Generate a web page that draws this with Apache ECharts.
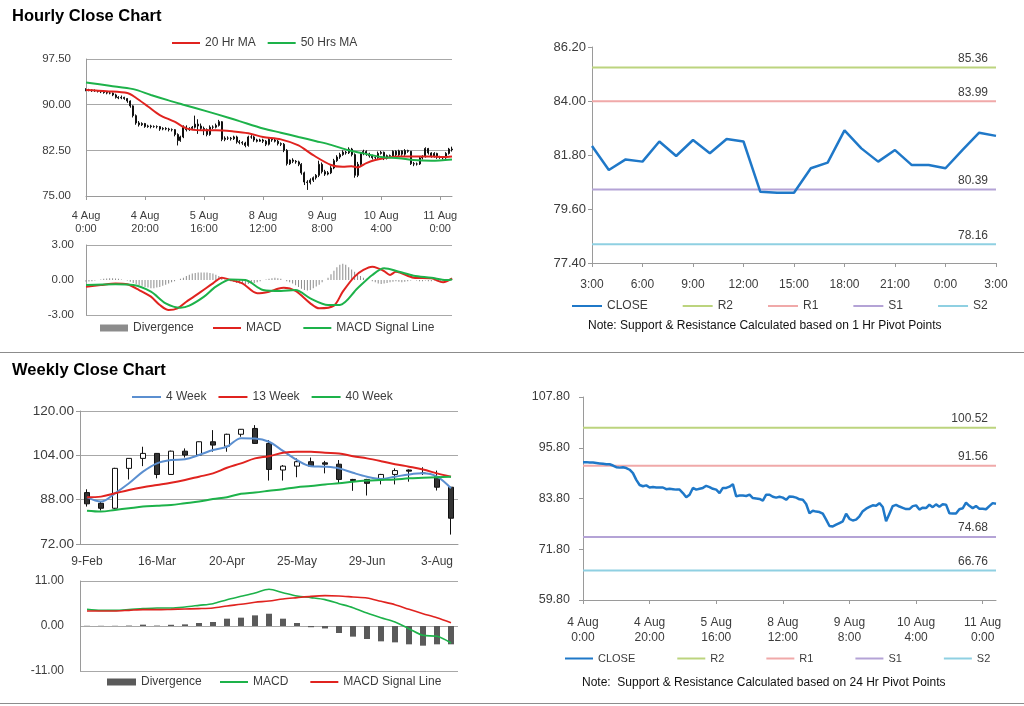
<!DOCTYPE html>
<html><head><meta charset="utf-8">
<script src="https://cdn.jsdelivr.net/npm/echarts@6/dist/echarts.min.js"></script>
<style>html,body{margin:0;padding:0;background:#fff}#c{width:1024px;height:706px}</style>
</head><body><div id="c"></div>
<script>
// ---------- Hourly data (4 Aug 0:00 .. 11 Aug ~4:00) ----------
const hourlyTickLabels = ['4 Aug\n0:00','4 Aug\n20:00','5 Aug\n16:00','8 Aug\n12:00','9 Aug\n8:00','10 Aug\n4:00','11 Aug\n0:00'];
const hourlyOpen = [92.5,92.4,92.4,92.3,92.3,92.2,92.1,92.0,91.9,91.9,
 91.6,91.2,91.1,91.2,91.0,90.6,89.8,88.2,87.0,86.7,
 86.9,86.4,86.5,86.4,86.4,86.4,86.0,86.1,86.0,85.9,
 85.9,85.1,84.1,84.7,86.3,85.9,86.1,86.3,86.8,86.5,
 86.1,85.9,85.1,86.3,86.3,86.6,87.2,84.3,84.5,84.5,
 84.4,84.7,83.9,83.8,83.7,83.3,84.7,84.7,84.2,84.0,
 84.2,84.0,83.5,84.3,84.2,84.0,83.6,83.5,82.5,80.3,
 80.9,80.7,80.6,80.2,78.8,77.3,77.2,77.6,78.0,78.4,
 80.2,79.0,78.6,78.8,79.6,80.8,81.4,81.8,82.2,82.1,
 82.7,81.8,78.4,80.2,82.0,82.3,81.9,81.6,81.3,81.3,
 82.0,82.17,81.19,81.62,81.53,82.35,81.76,82.41,81.87,82.45,
 82.35,80.30,80.26,80.26,81.26,81.49,82.8,82.07,81.53,82.0,
 81.39,81.39,81.26,82.0,82.71];
const hourlyClose = [92.4,92.4,92.3,92.3,92.2,92.1,92.0,91.9,91.9,91.6,
 91.2,91.1,91.2,91.0,90.6,89.8,88.2,87.0,86.7,86.9,
 86.4,86.5,86.4,86.4,86.4,86.0,86.1,86.0,85.9,85.9,
 85.1,84.1,84.7,86.3,85.9,86.1,86.3,86.8,86.5,86.1,
 85.9,85.1,86.3,86.3,86.6,87.2,84.3,84.5,84.5,84.4,
 84.7,83.9,83.8,83.7,83.3,84.7,84.7,84.2,84.0,84.2,
 84.0,83.5,84.3,84.2,84.0,83.6,83.5,82.5,80.3,80.9,
 80.7,80.6,80.2,78.8,77.3,77.2,77.6,78.0,78.4,80.2,
 79.0,78.6,78.8,79.6,80.8,81.4,81.8,82.2,82.1,82.7,
 81.8,78.4,80.2,82.0,82.3,81.9,81.6,81.3,81.3,82.0,
 82.17,81.19,81.62,81.53,82.35,81.76,82.41,81.87,82.45,82.35,
 80.30,80.26,80.26,81.26,81.49,82.8,82.07,81.53,82.0,81.39,
 81.39,81.26,82.0,82.71,82.58];
const hourlyHigh = [92.7,92.6,92.5,92.5,92.4,92.3,92.3,92.1,92.1,92.0,
 91.8,91.4,91.5,91.3,91.1,90.7,89.9,88.4,87.3,87.1,
 87.0,86.7,86.7,86.6,86.6,86.5,86.3,86.3,86.2,86.1,
 86.0,85.3,84.9,86.6,86.6,86.3,86.5,88.2,87.6,86.9,
 86.4,86.1,86.6,86.6,86.9,87.5,87.3,84.8,84.8,84.7,
 84.9,84.9,84.2,84.0,83.9,84.9,85.0,84.9,84.4,84.4,
 84.4,84.2,84.5,84.5,84.4,84.2,83.8,83.7,82.7,81.0,
 81.2,80.9,80.8,80.4,79.0,77.6,77.9,78.2,78.6,80.8,
 80.5,79.3,79.1,79.9,81.1,81.7,82.1,82.5,82.4,83.0,
 82.9,82.0,80.6,82.2,82.6,82.5,82.1,81.8,81.5,82.3,
 82.4,82.3,81.8,81.8,82.5,82.5,82.6,82.5,82.7,82.6,
 82.4,80.6,80.5,81.4,81.7,83.0,82.9,82.2,82.2,82.1,
 81.6,81.5,82.2,82.9,83.1];
const hourlyLow = [92.2,92.2,92.1,92.1,92.0,91.9,91.8,91.7,91.7,91.4,
 91.0,90.9,90.9,90.8,90.3,89.5,87.9,86.7,86.4,86.5,
 86.2,86.2,86.1,86.2,86.1,85.7,85.8,85.8,85.6,85.6,
 84.8,83.3,83.9,84.5,85.6,85.7,85.9,86.1,85.2,85.8,
 85.0,84.8,84.9,86.0,86.1,86.4,84.0,84.0,84.2,84.1,
 84.2,83.6,83.5,83.4,83.0,83.1,84.4,83.9,83.8,83.9,
 83.7,83.2,83.3,83.9,83.8,83.3,83.2,82.2,80.0,80.1,
 80.4,80.3,79.9,78.5,76.8,76.0,76.9,77.3,77.7,78.1,
 78.7,78.3,78.4,78.6,79.4,80.6,81.1,81.6,81.8,81.9,
 81.5,78.0,78.1,79.9,81.7,81.6,81.3,81.0,81.0,81.1,
 81.8,80.9,81.0,81.3,81.3,81.5,81.5,81.6,81.6,82.1,
 80.1,79.9,80.0,80.1,81.0,81.3,81.8,81.3,81.3,81.1,
 81.1,81.0,81.1,81.8,82.3];
// [hour index, value]
const ma20Hr = [[0,92.4],[7,92.2],[14,91.9],[17,91.1],[21,89.7],[25,88.3],[30,87.2],[34,86.1],[39,85.8],[44,85.8],[50,85.6],[55,85.3],[60,84.7],[66,84.3],[72,83.3],[77,81.7],[83,80.1],[87,79.8],[90,79.9],[92,79.7],[95,80.4],[98,80.9],[102,81.3],[106,81.5],[111,81.5],[117,81.5],[121,81.4],[124,81.5]];
const ma50Hr = [[0,93.65],[8,93.1],[16,92.55],[22,91.6],[28,90.7],[33,90.0],[41,88.9],[48,87.9],[52,87.3],[60,86.1],[66,85.4],[72,84.7],[78,84.0],[83,83.4],[89,82.5],[94,82.0],[100,81.4],[106,81.2],[111,80.9],[117,80.8],[124,81.0]];
const hourlyMacd = [[0,-0.57],[5,-0.43],[10,-0.29],[14,-0.37],[18,-0.86],[22,-1.43],[25,-2.14],[28,-2.57],[31,-2.43],[34,-1.86],[39,-1.0],[43,-0.29],[46,0.2],[49,0.0],[53,-0.29],[58,-1.14],[62,-1.0],[65,-0.75],[67,-0.66],[71,-0.94],[76,-2.0],[79,-2.43],[84,-2.2],[87,-1.0],[91,0.29],[94,0.86],[97,1.14],[99,1.0],[101,0.77],[103,0.43],[105,0.71],[111,0.2],[117,0.14],[121,-0.2],[124,0.14]];
const hourlySignal = [[0,-0.43],[10,-0.37],[16,-0.43],[22,-1.0],[27,-2.0],[32,-2.37],[35,-2.2],[40,-1.43],[44,-0.57],[49,0.05],[54,0.0],[60,-0.86],[66,-0.94],[71,-0.86],[76,-1.57],[82,-2.14],[86,-2.14],[92,-0.71],[97,0.43],[101,1.0],[106,0.71],[111,0.37],[117,0.2],[122,0.0],[124,0.05]];
const hourlyDivergence = [-0.15,-0.12,-0.1,-0.05,0.0,
 0.05,0.1,0.12,0.15,0.15,0.12,0.1,0.05,0.0,-0.05,
 -0.15,-0.25,-0.35,-0.45,-0.5,-0.6,-0.65,-0.7,-0.7,-0.65,-0.6,-0.5,-0.4,-0.3,-0.2,-0.1,0.0,0.1,
 0.2,0.35,0.45,0.55,0.6,0.65,0.65,0.65,0.65,0.6,0.55,0.45,0.35,0.2,0.05,
 -0.05,-0.1,-0.15,-0.25,-0.3,-0.35,-0.4,-0.35,-0.3,-0.25,-0.2,-0.1,0.0,0.05,0.1,
 0.15,0.2,0.15,0.1,0.0,-0.1,-0.2,
 -0.3,-0.45,-0.6,-0.75,-0.85,-0.9,-0.85,-0.7,-0.55,-0.4,-0.2,0.0,0.2,0.5,0.8,1.1,
 1.3,1.4,1.3,1.1,0.9,0.7,0.5,0.35,0.2,0.1,0.0,-0.1,
 -0.2,-0.3,-0.35,-0.3,-0.25,-0.2,-0.15,-0.1,-0.15,-0.2,-0.15,-0.1,-0.05,0.0,-0.05,
 -0.1,-0.1,-0.05,-0.1,-0.1,-0.05,-0.1,-0.15,-0.1,-0.05,0.0,0.1];

// ---------- Last 25 hours with 1 Hr pivots ----------
const lastDayLabels = ['3:00','4:00','5:00','6:00','7:00','8:00','9:00','10:00','11:00','12:00','13:00','14:00','15:00','16:00','17:00','18:00','19:00','20:00','21:00','22:00','23:00','0:00','1:00','2:00','3:00'];
const lastDayClose = hourlyClose.slice(-25);
const pivotNames = ['R2','R1','S1','S2'];
const pivotColors = ['#bcd47e','#f0a9a9','#b4a3d6','#8fd0e2'];
const pivots1Hr = [85.36, 83.99, 80.39, 78.16];
const pivots24Hr = [100.52, 91.56, 74.68, 66.76];

// ---------- Weekly data ----------
const weeks = ['9-Feb','16-Feb','23-Feb','2-Mar','9-Mar','16-Mar','23-Mar','30-Mar','6-Apr','13-Apr','20-Apr','27-Apr','4-May','11-May','18-May','25-May','1-Jun','8-Jun','15-Jun','22-Jun','29-Jun','6-Jul','13-Jul','20-Jul','27-Jul','3-Aug','10-Aug'];
const weeklyOpen  = [90.55,86.7,84.9,99.3,102.9,104.7,97.1,105.5,104.1,108.9,107.3,111.6,113.7,108.3,98.7,100.1,101.7,101.3,100.8,95.3,95.3,95.3,97.1,98.7,97.6,96.3,92.5];
const weeklyClose = [86.5,84.9,99.3,102.9,104.7,97.1,105.5,104.1,108.9,107.7,111.6,113.4,108.3,98.9,100.1,101.7,100.1,100.8,95.3,94.9,93.9,97.1,98.5,98.3,97.5,92.5,81.3];
const weeklyLow   = [85.5,84.1,84.7,95.3,100.1,95.7,97.0,103.2,104.0,105.3,105.3,110.7,108.2,94.9,94.9,96.1,99.9,97.5,93.9,91.2,89.5,93.5,93.5,94.5,96.9,91.3,75.4];
const weeklyHigh  = [91.75,87.3,99.5,102.9,107.1,104.8,105.7,106.5,109.0,113.1,111.8,113.5,114.9,109.5,100.5,102.9,103.2,102.0,102.3,95.5,95.5,97.3,99.3,98.9,99.7,98.5,92.6];
const ma4Week  = [88.9,87.3,90.3,93.9,98.1,101.1,102.3,102.6,104.1,105.9,107.1,110.2,110.1,108.9,105.6,102.3,100.1,99.9,99.3,97.7,96.3,95.5,96.3,97.1,97.5,96.3,92.1];
const ma13Week = [88.9,89.1,90.3,91.5,92.5,93.3,94.1,95.1,96.3,97.5,99.5,101.1,102.9,103.7,104.9,105.3,105.3,104.9,104.7,103.7,102.9,101.9,100.8,99.9,98.9,97.5,96.3];
const ma40Week = [84.0,83.7,84.3,84.9,85.5,85.8,86.1,86.7,87.3,88.2,88.9,90.1,90.6,91.2,91.8,92.5,92.9,93.5,93.9,94.5,94.9,95.1,95.3,95.7,95.9,96.1,96.3];
const weeklyMacd   = [4.07,3.83,3.83,4.0,4.24,4.4,4.4,4.65,5.05,5.46,6.44,7.25,8.07,8.97,8.15,7.33,6.93,6.44,5.46,4.48,3.18,2.04,0.98,-0.65,-2.28,-2.53,-4.16];
const weeklySignal = [3.67,3.67,3.67,3.83,4.0,4.0,4.07,4.16,4.24,4.4,4.89,5.3,5.79,6.11,6.6,6.93,7.25,7.42,7.33,7.09,6.85,6.03,5.22,4.07,3.02,2.04,0.82];
const weeklyDivergence = [0.05,0.05,0.05,0.1,0.33,0.1,0.3,0.4,0.73,0.98,1.79,2.04,2.6,3.0,1.79,0.73,-0.3,-0.6,-1.71,-2.6,-3.18,-3.75,-4.0,-4.48,-4.81,-4.48,-4.48];

// ---------- build ----------
const FONT = '"Liberation Sans", Arial, sans-serif';
const TXT = '#3c3c3c';
const AX = '#9a9a9a';
const GRID = '#a8a8a8';
const RED = '#e0231f', GREEN = '#1db24a', BLUE = '#5b8fd0', CLOSEC = '#1f78c8';

const hourCats = hourlyClose.map((_, i) => String(i));
const lastCats = lastDayLabels.map((_, i) => String(i));
const hourlyOHLC = hourlyClose.map((c, i) => [hourlyOpen[i], c, hourlyLow[i], hourlyHigh[i]]);
const weeklyOHLC = weeklyClose.map((c, i) => [weeklyOpen[i], c, weeklyLow[i], weeklyHigh[i]]);

function yAx(gi, min, max, interval, o) {
  return Object.assign({
    type: 'value', gridIndex: gi, min, max, interval,
    axisLine: { show: true, lineStyle: { color: AX } },
    axisTick: { show: false },
    splitLine: { show: true, lineStyle: { color: GRID } },
    axisLabel: { color: TXT, fontSize: 11.5, fontFamily: FONT, formatter: v => v.toFixed(2) }
  }, o || {});
}
function line(name, xi, yi, data, color, width, smooth) {
  return { name, type: 'line', xAxisIndex: xi, yAxisIndex: yi, data, color,
    symbol: 'none', showSymbol: false, smooth: smooth || false, z: 4,
    lineStyle: { color, width }, emphasis: { disabled: true } };
}
function pivot(name, xi, yi, last, value, color, fs) {
  return { name, type: 'line', xAxisIndex: xi, yAxisIndex: yi, color, z: 3,
    symbol: 'circle', symbolSize: 0, showSymbol: true, lineStyle: { color, width: 2 },
    emphasis: { disabled: true },
    data: [[0, value], { value: [last, value],
      label: { show: true, position: 'top', align: 'right', offset: [-8, 1], distance: 4,
        formatter: value.toFixed(2), color: TXT, fontSize: fs, fontFamily: FONT } }] };
}
function legend(left, top, data, w, h, gap, fs, strip) {
  const l = { left, top, data, icon: 'rect', itemWidth: w, itemHeight: h, itemGap: gap,
    selectedMode: false, textStyle: { color: TXT, fontSize: fs, fontFamily: FONT }, padding: 0 };
  if (strip) l.formatter = n => n.replace(/^[wb]/, '');
  return l;
}

const series = [
  { name: 'Hourly', type: 'candlestick', xAxisIndex: 0, yAxisIndex: 0, data: hourlyOHLC, barWidth: 1.5,
    itemStyle: { color: '#111', color0: '#111', borderColor: '#111', borderColor0: '#111', borderWidth: 1 } },
  line('20 Hr MA', 0, 0, ma20Hr, RED, 2, 0.3),
  line('50 Hrs MA', 0, 0, ma50Hr, GREEN, 2, 0.3),
  { name: 'Divergence', type: 'bar', xAxisIndex: 1, yAxisIndex: 1, data: hourlyDivergence, barWidth: 1, color: '#8c8c8c' },
  line('MACD', 1, 1, hourlyMacd, RED, 2, 0.3),
  line('MACD Signal Line', 1, 1, hourlySignal, GREEN, 2, 0.3),
  line('CLOSE', 2, 2, lastDayClose, CLOSEC, 2.5, false),
  { name: 'Weekly', type: 'candlestick', xAxisIndex: 3, yAxisIndex: 3, data: weeklyOHLC, barWidth: 6,
    itemStyle: { color: '#ffffff', color0: '#333333', borderColor: '#111', borderColor0: '#111', borderWidth: 1 } },
  line('4 Week', 3, 3, ma4Week, BLUE, 2, 0.35),
  line('13 Week', 3, 3, ma13Week, RED, 2, 0.35),
  line('40 Week', 3, 3, ma40Week, GREEN, 2, 0.35),
  { name: 'wDivergence', type: 'bar', xAxisIndex: 4, yAxisIndex: 4, data: weeklyDivergence, barWidth: 6, color: '#5a5a5a' },
  line('wMACD', 4, 4, weeklyMacd, GREEN, 1.6, 0.3),
  line('wMACD Signal Line', 4, 4, weeklySignal, RED, 1.6, 0.3),
  line('bCLOSE', 5, 5, hourlyClose, CLOSEC, 2.5, false)
];
pivotNames.forEach((n, k) => {
  series.push(pivot(n, 2, 2, lastCats.length - 1, pivots1Hr[k], pivotColors[k], 12));
});
pivotNames.forEach((n, k) => {
  series.push(pivot('b' + n, 5, 5, hourCats.length - 1, pivots24Hr[k], pivotColors[k], 12));
});

const option = {
  animation: false,
  backgroundColor: '#ffffff',
  textStyle: { fontFamily: FONT },
  grid: [
    { left: 86, top: 59, width: 366, height: 137 },
    { left: 86, top: 245, width: 366, height: 70 },
    { left: 592, top: 47, width: 404, height: 216 },
    { left: 80, top: 411, width: 378, height: 133 },
    { left: 80, top: 581, width: 378, height: 90 },
    { left: 583, top: 397, width: 413, height: 203 }
  ],
  xAxis: [
    { type: 'category', gridIndex: 0, data: hourCats, boundaryGap: false,
      axisLine: { lineStyle: { color: AX } }, axisTick: { interval: 19, length: 4, lineStyle: { color: AX } },
      axisLabel: { interval: 19, color: TXT, fontSize: 11, lineHeight: 13.5, margin: 13, fontFamily: FONT,
        formatter: (v, i) => hourlyTickLabels[Math.round(i / 20)] } },
    { type: 'category', gridIndex: 1, data: hourCats, boundaryGap: false, show: false },
    { type: 'category', gridIndex: 2, data: lastCats, boundaryGap: false,
      axisLine: { lineStyle: { color: AX } }, axisTick: { interval: 2, length: 4, lineStyle: { color: AX } },
      axisLabel: { interval: 2, color: TXT, fontSize: 12, margin: 16, fontFamily: FONT,
        formatter: (v, i) => lastDayLabels[i] } },
    { type: 'category', gridIndex: 3, data: weeks, boundaryGap: true,
      axisLine: { lineStyle: { color: AX } }, axisTick: { interval: 4, length: 4, lineStyle: { color: AX } },
      axisLabel: { interval: 4, color: TXT, fontSize: 12, margin: 12, fontFamily: FONT } },
    { type: 'category', gridIndex: 4, data: weeks, boundaryGap: true, show: false },
    { type: 'category', gridIndex: 5, data: hourCats, boundaryGap: false,
      axisLine: { lineStyle: { color: AX } }, axisTick: { interval: 19, length: 4, lineStyle: { color: AX } },
      axisLabel: { interval: 19, color: TXT, fontSize: 12, lineHeight: 15, margin: 15, fontFamily: FONT,
        formatter: (v, i) => hourlyTickLabels[Math.round(i / 20)] } }
  ],
  yAxis: [
    yAx(0, 75, 97.5, 7.5, { axisLabel: { color: TXT, fontSize: 11.5, margin: 15, fontFamily: FONT, formatter: v => v.toFixed(2) } }),
    yAx(1, -3, 3, 3, { splitLine: { show: true, lineStyle: { color: [GRID, 'rgba(0,0,0,0)', GRID] } },
      axisLabel: { color: TXT, fontSize: 11.5, margin: 12, fontFamily: FONT, formatter: v => v.toFixed(2) } }),
    yAx(2, 77.4, 86.2, 2.2, { splitLine: { show: false }, axisTick: { show: true, length: 4, lineStyle: { color: AX } },
      axisLabel: { color: TXT, fontSize: 13, margin: 6, fontFamily: FONT, formatter: v => v.toFixed(2) } }),
    yAx(3, 72, 120, 16, { axisTick: { show: true, length: 4, lineStyle: { color: AX } },
      axisLabel: { color: TXT, fontSize: 13.5, margin: 6, fontFamily: FONT, formatter: v => v.toFixed(2) } }),
    yAx(4, -11, 11, 11, { axisLabel: { color: TXT, fontSize: 12, margin: 16, fontFamily: FONT, formatter: v => v.toFixed(2) } }),
    yAx(5, 59.8, 107.8, 12, { splitLine: { show: false }, axisTick: { show: true, length: 4, lineStyle: { color: AX } },
      axisLabel: { color: TXT, fontSize: 12.5, margin: 13, fontFamily: FONT, formatter: v => v.toFixed(2) } })
  ],
  legend: [
    legend(172, 37, ['20 Hr MA', '50 Hrs MA'], 28, 2, 12, 12),
    legend(100, 322, ['Divergence'], 28, 7, 10, 12),
    legend(213, 322, ['MACD', 'MACD Signal Line'], 28, 2, 22, 12),
    legend(132, 391, ['4 Week', '13 Week', '40 Week'], 29, 2, 12, 12),
    legend(107, 676, ['wDivergence'], 29, 7, 10, 12, true),
    legend(220, 676, ['wMACD', 'wMACD Signal Line'], 28, 2, 22, 12, true),
    legend(572, 300, ['CLOSE', 'R2', 'R1', 'S1', 'S2'], 30, 2, 35, 12),
    legend(565, 653, ['bCLOSE', 'bR2', 'bR1', 'bS1', 'bS2'], 28, 2, 42, 11, true)
  ],
  graphic: [
    { type: 'text', left: 12, top: 8, style: { text: 'Hourly Close Chart', font: 'bold 16.5px ' + FONT, fill: '#000' } },
    { type: 'text', left: 12, top: 362, style: { text: 'Weekly Close Chart', font: 'bold 16.5px ' + FONT, fill: '#000' } },
    { type: 'line', shape: { x1: 0, y1: 352.5, x2: 1024, y2: 352.5 }, style: { stroke: '#8c8c8c', lineWidth: 1 } },
    { type: 'line', shape: { x1: 0, y1: 703.5, x2: 1024, y2: 703.5 }, style: { stroke: '#8c8c8c', lineWidth: 1 } },
    { type: 'text', left: 588, top: 320, style: { text: 'Note: Support & Resistance Calculated based on 1 Hr Pivot Points', font: '12px ' + FONT, fill: '#111' } },
    { type: 'text', left: 582, top: 677, style: { text: 'Note:  Support & Resistance Calculated based on 24 Hr Pivot Points', font: '12px ' + FONT, fill: '#111' } }
  ],
  series
};
const chart = echarts.init(document.getElementById('c'), null, { renderer: 'canvas' });
chart.setOption(option);
</script>
</body></html>
